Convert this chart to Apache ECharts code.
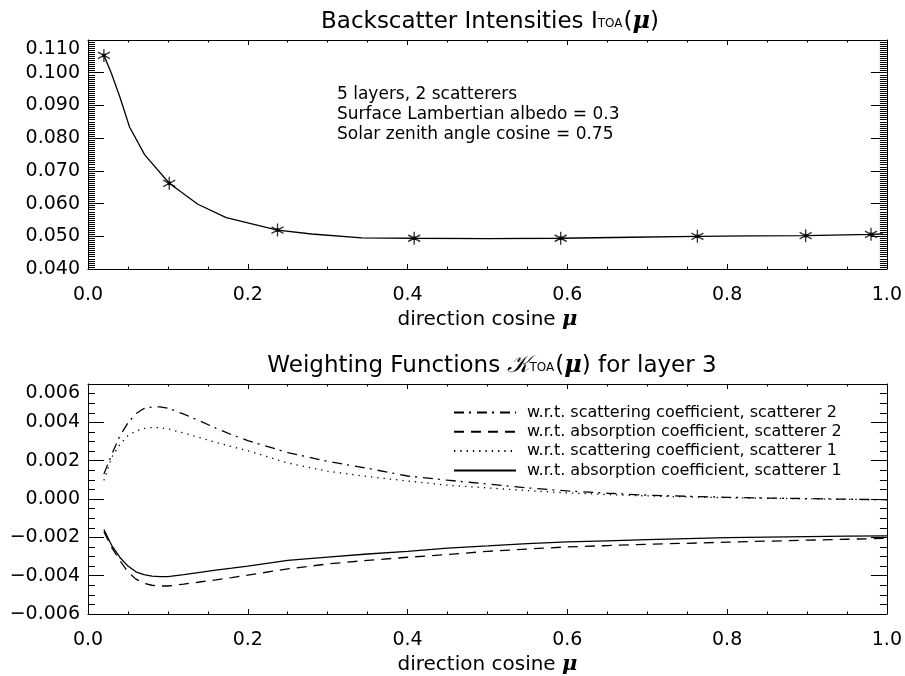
<!DOCTYPE html>
<html>
<head>
<meta charset="utf-8">
<script src="https://cdn.jsdelivr.net/npm/echarts@6/dist/echarts.min.js"></script>
<style>html,body{margin:0;padding:0;background:#fff}#c{width:905px;height:676px}</style>
</head>
<body>
<div id="c"></div>
<script>
// ---- Top panel: backscatter intensities ----
const muCurve = [0.0199, 0.029, 0.040, 0.052, 0.071, 0.1017, 0.1375, 0.173, 0.2372, 0.280, 0.3425, 0.4083, 0.500, 0.5917, 0.680, 0.7628, 0.830, 0.8983, 0.9801, 0.995];
const iCurve  = [0.1053, 0.1000, 0.0925, 0.0834, 0.0749, 0.0662, 0.0598, 0.0557, 0.0519, 0.0507, 0.0495, 0.0494, 0.0493, 0.0494, 0.0497, 0.0500, 0.0501, 0.0502, 0.0506, 0.0507];
const muQuad  = [0.0199, 0.1017, 0.2372, 0.4083, 0.5917, 0.7628, 0.8983, 0.9801];
const iQuad   = [0.1053, 0.0662, 0.0519, 0.0494, 0.0494, 0.0500, 0.0502, 0.0506];
const topNotes = ['5 layers, 2 scatterers', 'Surface Lambertian albedo = 0.3', 'Solar zenith angle cosine = 0.75'];

// ---- Bottom panel: weighting functions ----
const muW = [0.0199, 0.03, 0.04, 0.05, 0.06, 0.07, 0.08, 0.09, 0.10, 0.12, 0.14, 0.16, 0.18, 0.20, 0.25, 0.30, 0.35, 0.40, 0.45, 0.50, 0.55, 0.60, 0.65, 0.70, 0.75, 0.80, 0.85, 0.90, 0.95, 1.00];
const kScat2 = [0.00131, 0.00235, 0.00330, 0.00398, 0.00445, 0.00472, 0.00480, 0.00481, 0.00474, 0.00443, 0.00407, 0.00370, 0.00335, 0.00305, 0.00242, 0.00196, 0.00160, 0.00120, 0.00098, 0.00078, 0.00058, 0.00042, 0.00030, 0.00020, 0.00014, 0.00009, 0.00005, 0.00002, -0.00001, -0.00004];
const kAbs2  = [-0.00171, -0.00255, -0.00322, -0.00380, -0.00418, -0.00440, -0.00450, -0.00454, -0.00454, -0.00444, -0.00433, -0.00422, -0.00410, -0.00397, -0.00365, -0.00339, -0.00320, -0.00304, -0.00290, -0.00273, -0.00261, -0.00250, -0.00243, -0.00236, -0.00231, -0.00225, -0.00220, -0.00215, -0.00210, -0.00205];
const kScat1 = [0.00097, 0.00220, 0.00285, 0.00330, 0.00355, 0.00368, 0.00373, 0.00372, 0.00366, 0.00344, 0.00320, 0.00296, 0.00273, 0.00252, 0.00188, 0.00145, 0.00117, 0.00094, 0.00072, 0.00058, 0.00044, 0.00032, 0.00023, 0.00016, 0.00011, 0.00007, 0.00004, 0.00001, -0.00002, -0.00004];
const kAbs1  = [-0.00159, -0.00245, -0.00305, -0.00350, -0.00380, -0.00395, -0.00402, -0.00405, -0.00405, -0.00395, -0.00383, -0.00371, -0.00361, -0.00350, -0.00320, -0.00303, -0.00287, -0.00273, -0.00256, -0.00245, -0.00233, -0.00224, -0.00218, -0.00212, -0.00207, -0.00202, -0.00199, -0.00196, -0.00194, -0.00192];
const legendNames = [
  'w.r.t. scattering coefficient, scatterer 2',
  'w.r.t. absorption coefficient, scatterer 2',
  'w.r.t. scattering coefficient, scatterer 1',
  'w.r.t. absorption coefficient, scatterer 1'
];

const zip = (a, b) => a.map((v, i) => [v, b[i]]);
const FONT = 'DejaVu Sans';
const BLACK = '#000';

function xAx(grid, pos, labels) {
  return {
    type: 'value', gridIndex: grid, position: pos, min: 0, max: 1, interval: 0.2,
    axisLine: { show: true, onZero: false, lineStyle: { color: BLACK, width: 1 } },
    axisTick: { show: true, inside: true, length: 5, lineStyle: { color: BLACK } },
    minorTick: { show: true, splitNumber: 4, length: 2.5, lineStyle: { color: BLACK } },
    splitLine: { show: false },
    axisLabel: { show: labels, margin: 17, color: BLACK, fontFamily: FONT, fontSize: 19, formatter: v => v.toFixed(1) },
    name: labels ? '{t|direction cosine }{m|μ}' : '',
    nameLocation: 'middle', nameGap: 40,
    nameTextStyle: { rich: { t: { fontFamily: FONT, fontSize: 20, color: BLACK }, m: { fontFamily: 'DejaVu Serif', fontStyle: 'italic', fontWeight: 'bold', fontSize: 21, color: BLACK } } }
  };
}
function yAx(grid, pos, labels, min, max, interval, minorN) {
  return {
    type: 'value', gridIndex: grid, position: pos, min: min, max: max, interval: interval,
    axisLine: { show: true, onZero: false, lineStyle: { color: BLACK, width: 1 } },
    axisTick: { show: true, inside: true, length: 16, lineStyle: { color: BLACK } },
    minorTick: { show: true, splitNumber: minorN, length: 7, lineStyle: { color: BLACK } },
    splitLine: { show: false },
    axisLabel: {
      show: labels, margin: 8, color: BLACK, fontFamily: FONT, fontSize: 19,
      verticalAlignMaxLabel: 'top',
      formatter: v => v.toFixed(3).replace('-', '\u2212')
    }
  };
}

const chart = echarts.init(document.getElementById('c'), null, { renderer: 'canvas' });
const asterisk = 'path://M6 0L6 12M0.8 3L11.2 9M0.8 9L11.2 3';

chart.setOption({
  animation: false,
  backgroundColor: '#fff',
  grid: [
    { left: 88, top: 40, width: 800, height: 229 },
    { left: 88, top: 384, width: 800, height: 232 }
  ],
  xAxis: [xAx(0, 'bottom', true), xAx(0, 'top', false), xAx(1, 'bottom', true), xAx(1, 'top', false)],
  yAxis: [
    yAx(0, 'left', true, 0.04, 0.11, 0.01, 16), yAx(0, 'right', false, 0.04, 0.11, 0.01, 16),
    yAx(1, 'left', true, -0.006, 0.006, 0.002, 4), yAx(1, 'right', false, -0.006, 0.006, 0.002, 4)
  ],
  legend: {
    data: legendNames, orient: 'vertical', left: 448, top: 399.5,
    itemWidth: 62, itemHeight: 14, itemGap: 3.3,
    itemStyle: { opacity: 0 },
    textStyle: { fontFamily: FONT, fontSize: 16, color: BLACK, padding: [0, 0, 0, 6] },
    selectedMode: false
  },
  graphic: [
    {
      type: 'text', x: 490, y: 20,
      style: {
        text: '{t|Backscatter Intensities I}{s|TOA}{t|(}{m|μ}{t|)}',
        align: 'center', verticalAlign: 'middle',
        rich: {
          t: { fontFamily: FONT, fontSize: 23, lineHeight: 28, fill: BLACK, verticalAlign: 'bottom' },
          s: { fontFamily: FONT, fontSize: 12, lineHeight: 12, fill: BLACK, verticalAlign: 'bottom', padding: [0, 1, 4, 0] },
          m: { fontFamily: 'DejaVu Serif', fontStyle: 'italic', fontWeight: 'bold', fontSize: 24, lineHeight: 28, fill: BLACK, verticalAlign: 'bottom' }
        }
      }
    },
    {
      type: 'text', x: 492, y: 364,
      style: {
        text: '{t|Weighting Functions }{k|𝒦}{s|TOA}{t|(}{m|μ}{t|) for layer 3}',
        align: 'center', verticalAlign: 'middle',
        rich: {
          t: { fontFamily: FONT, fontSize: 23, lineHeight: 28, fill: BLACK, verticalAlign: 'bottom' },
          k: { fontFamily: 'DejaVu Serif', fontStyle: 'italic', fontSize: 24, lineHeight: 28, fill: BLACK, verticalAlign: 'bottom' },
          s: { fontFamily: FONT, fontSize: 12, lineHeight: 12, fill: BLACK, verticalAlign: 'bottom', padding: [0, 1, 4, 0] },
          m: { fontFamily: 'DejaVu Serif', fontStyle: 'italic', fontWeight: 'bold', fontSize: 24, lineHeight: 28, fill: BLACK, verticalAlign: 'bottom' }
        }
      }
    },
    {
      type: 'text', x: 337, y: 85,
      style: { text: topNotes.join('\n'), font: '17px "DejaVu Sans"', lineHeight: 20, fill: BLACK, align: 'left', verticalAlign: 'top' }
    }
  ],
  series: [
    { type: 'line', xAxisIndex: 0, yAxisIndex: 0, data: zip(muCurve, iCurve), symbol: 'none', lineStyle: { color: BLACK, width: 1.3 }, silent: true },
    { type: 'scatter', xAxisIndex: 0, yAxisIndex: 0, data: zip(muQuad, iQuad), symbol: asterisk, symbolSize: [12, 13],
      itemStyle: { color: 'rgba(0,0,0,0)', borderColor: BLACK, borderWidth: 1.4 }, silent: true },
    { type: 'scatter', xAxisIndex: 0, yAxisIndex: 0, data: zip(muQuad, iQuad), symbol: 'rect', symbolSize: 3.5,
      itemStyle: { color: BLACK }, silent: true },
    { name: legendNames[0], type: 'line', xAxisIndex: 2, yAxisIndex: 2, data: zip(muW, kScat2), symbol: 'none',
      lineStyle: { color: BLACK, width: 1.3, type: [10, 5, 2, 6] }, itemStyle: { color: BLACK } },
    { name: legendNames[1], type: 'line', xAxisIndex: 2, yAxisIndex: 2, data: zip(muW, kAbs2), symbol: 'none',
      lineStyle: { color: BLACK, width: 1.3, type: [10, 7] }, itemStyle: { color: BLACK } },
    { name: legendNames[2], type: 'line', xAxisIndex: 2, yAxisIndex: 2, data: zip(muW, kScat1), symbol: 'none',
      lineStyle: { color: BLACK, width: 1.3, type: [1.3, 5] }, itemStyle: { color: BLACK } },
    { name: legendNames[3], type: 'line', xAxisIndex: 2, yAxisIndex: 2, data: zip(muW, kAbs1), symbol: 'none',
      lineStyle: { color: BLACK, width: 1.3 }, itemStyle: { color: BLACK } }
  ]
});
</script>
</body>
</html>
